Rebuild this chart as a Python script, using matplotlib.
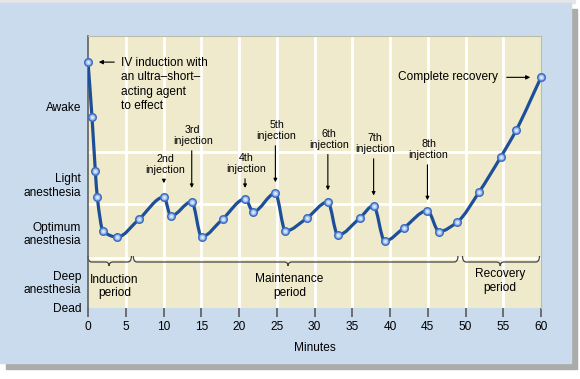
import numpy as np
import matplotlib.pyplot as plt
from matplotlib.path import Path
from matplotlib.patches import PathPatch, Rectangle

plt.rcParams['font.family'] = ['Liberation Sans', 'DejaVu Sans']

# points on the curve (minutes, depth level 0 = dead .. 100 = top of chart)
minutes = [0, 0.53, 0.97, 1.23, 2.0, 3.9, 6.77, 10.05, 10.98, 13.74, 15.04,
           17.83, 20.8, 21.9, 24.82, 26.15, 28.98, 31.77, 33.09, 35.97, 37.83,
           39.3, 41.86, 44.96, 46.5, 48.94, 51.77, 54.69, 56.72, 60]
depth = [90.4, 70.2, 50.4, 40.8, 28.3, 26.1, 32.7, 40.8, 33.8, 39.1, 26.2,
         32.7, 40.1, 35.4, 42.2, 28.3, 33.0, 39.0, 26.8, 33.0, 37.6,
         24.6, 29.5, 35.8, 28.1, 31.7, 42.5, 55.6, 65.4, 84.8]

# depth levels
level_names = ["Dead", "Deep\nanesthesia", "Optimum\nanesthesia",
               "Light\nanesthesia", "Awake"]
level_pos = [0, 9.9, 27.9, 45.6, 73.9]
grid_levels = [18.4, 38.2, 57.4]

# injections: label, minute of the peak
inj_names = ["2nd", "3rd", "4th", "5th", "6th", "7th", "8th"]
inj_min = [10.05, 13.74, 20.8, 24.82, 31.77, 37.83, 44.96]

# periods: name, start, brace tip, end
periods = ["Induction\nperiod", "Maintenance\nperiod", "Recovery\nperiod"]
per_start = [0, 6.0, 49.6]
per_tip = [2.8, 26.5, 54.6]
per_end = [5.75, 49.0, 59.8]

W, H = 580, 379
def px2x(px):
    return (px - 89) / 7.533
def px2y(py):
    return (308 - py) / 2.72

fig = plt.figure(figsize=(5.8, 3.79), dpi=100)
fig.patch.set_facecolor('white')
# panel with shadow
fig.patches.append(Rectangle((0, 1 - 3 / H), 575 / W, 3 / H,
                             transform=fig.transFigure, color='#e4e6e8', zorder=-11))
fig.patches.append(Rectangle((6 / W, (379 - 369) / H), 571 / W, 360 / H,
                             transform=fig.transFigure, color='#ababab', zorder=-10))
fig.patches.append(Rectangle((0, (379 - 363) / H), 571 / W, 360 / H,
                             transform=fig.transFigure, color='#c9dbec', zorder=-9))

ax = fig.add_axes([88 / W, (379 - 308) / H, 453 / W, 272 / H])
ax.set_facecolor('#eeeacb')
ax.set_xlim(0, 60)
ax.set_ylim(0, 100)

for gx in range(5, 60, 5):
    ax.axvline(gx, color='white', lw=2, zorder=1)
for gy in grid_levels:
    ax.axhline(gy, color='white', lw=2, zorder=1)

# smooth curve (monotone cubic through the points)
x = np.array(minutes, float)
y = np.array(depth, float)
h = np.diff(x)
d = np.diff(y) / h
m = np.zeros_like(x)
m[0], m[-1] = d[0], d[-1]
for i in range(1, len(x) - 1):
    if d[i - 1] * d[i] > 0:
        w1 = 2 * h[i] + h[i - 1]
        w2 = h[i] + 2 * h[i - 1]
        m[i] = (w1 + w2) / (w1 / d[i - 1] + w2 / d[i])
verts = [(x[0], y[0])]
codes = [Path.MOVETO]
for i in range(len(x) - 1):
    verts += [(x[i] + h[i] / 3, y[i] + m[i] * h[i] / 3),
              (x[i + 1] - h[i] / 3, y[i + 1] - m[i + 1] * h[i] / 3),
              (x[i + 1], y[i + 1])]
    codes += [Path.CURVE4] * 3
ax.add_patch(PathPatch(Path(verts, codes), fill=False, ec='#1d4f99', lw=2.3,
                       zorder=3, capstyle='round', joinstyle='round'))
ax.plot(minutes, depth, 'o', ms=5.4, mfc='#a3c0ec', mec='#3c6cc2', mew=1.1,
        zorder=4, clip_on=False)
ax.plot(minutes, depth, 'o', ms=2, mfc='#e2ebfa', mec='none', zorder=5,
        clip_on=False)

# axes styling
for s in ['top', 'right']:
    ax.spines[s].set_color('#bdbca8')
    ax.spines[s].set_linewidth(0.8)
ax.spines['bottom'].set_visible(False)
ax.spines['left'].set_color('#606060')
ax.spines['left'].set_linewidth(1.2)
ax.set_xticks(range(0, 61, 5))
ax.tick_params(axis='x', direction='out', length=6.5, width=1.1, color='#505050',
               labelsize=8.6, pad=3)
ax.set_yticks(level_pos)
ax.set_yticklabels(level_names, fontsize=8.6, linespacing=1.15)
ax.tick_params(axis='y', length=0, pad=5)
ax.set_xlabel("Minutes", fontsize=8.6, labelpad=6)

# annotations
ax.annotate("", xy=(px2x(97), depth[0]), xytext=(px2x(118), depth[0]),
            arrowprops=dict(arrowstyle='-|>', color='black', lw=0.8,
                            mutation_scale=6))
ax.text(px2x(122), px2y(84.5), "IV induction with\nan ultra\u2013short\u2013\nacting agent\nto effect",
        fontsize=8.6, ha='left', va='center', linespacing=1.27)
ax.annotate("", xy=(px2x(533), depth[-1]), xytext=(px2x(504), depth[-1]),
            arrowprops=dict(arrowstyle='-|>', color='black', lw=0.8,
                            mutation_scale=6))
ax.text(px2x(498), depth[-1], "Complete recovery", fontsize=8.6,
        ha='right', va='center')

# arrow top / tip heights for each injection label (pixels)
arrow_top = [177, 148, 176, 143, 151.7, 156, 162]
arrow_tip = [186, 190.7, 190.7, 185, 193, 198.3, 203]
for name, mx, at, tip in zip(inj_names, inj_min, arrow_top, arrow_tip):
    ax.annotate("", xy=(mx, px2y(tip)), xytext=(mx, px2y(at)),
                arrowprops=dict(arrowstyle='-|>', color='black', lw=0.8,
                                mutation_scale=5))
    ax.text(mx + 0.15, px2y(at - 2), name + "\ninjection", fontsize=7.7,
            ha='center', va='bottom', linespacing=1.1)

# braces under the curve
top, mid, tipy = px2y(256), px2y(262), px2y(266)
for name, s, t, e in zip(periods, per_start, per_tip, per_end):
    dd = 0.5
    bv = [(s, top), (s, mid), (s + dd, mid), (t - dd, mid), (t, mid),
          (t, tipy), (t, tipy), (t, mid), (t + dd, mid), (e - dd, mid),
          (e, mid), (e, top)]
    bc = [Path.MOVETO, Path.CURVE3, Path.CURVE3, Path.LINETO, Path.CURVE3,
          Path.CURVE3, Path.MOVETO, Path.CURVE3, Path.CURVE3, Path.LINETO,
          Path.CURVE3, Path.CURVE3]
    ax.add_patch(PathPatch(Path(bv, bc), fill=False, ec='#444444', lw=0.9,
                           zorder=2, clip_on=False))
label_x = [3.5, 26.7, 54.6]
label_y = [px2y(286.5), px2y(286), px2y(281)]
for name, lx, ly in zip(periods, label_x, label_y):
    ax.text(lx, ly, name, fontsize=8.6, ha='center', va='center',
            linespacing=1.2)

fig.savefig("out.png", dpi=100)
